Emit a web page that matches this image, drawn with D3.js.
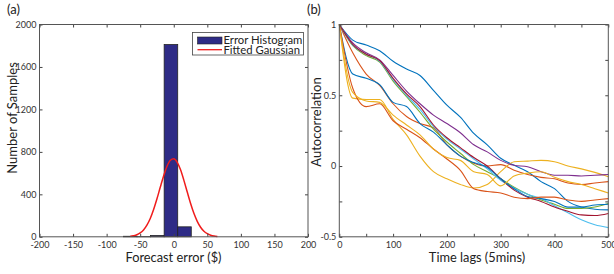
<!DOCTYPE html>
<html>
<head>
<meta charset="utf-8">
<script src="https://cdn.jsdelivr.net/npm/d3@7"></script>
<style>
  body { margin: 0; background: #fff; }
  svg { display: block; font-family: Lato, "Open Sans", sans-serif; }
  .tick text { font-size: 9px; fill: #333; font-family: Lato, sans-serif; }
  .tick line { stroke: #444; }
  .domain { display: none; }
</style>
</head>
<body>
<script>
// (a) histogram of forecast errors
var binCenters = [-64.8, -44.6, -24.4, -4.2, 16.0];
var binCounts = [5, 1, 12, 1811, 94];
var binWidth = 20.2;
var gaussX = [-65,-60,-55,-50,-45,-40,-35,-30,-25,-20,-15,-10,-5,0,5,10,15,20,25,30,35,40,45,50,55,60,65];
var gaussY = [4,10,19,37,65,110,173,257,358,469,576,665,721,735,704,633,534,424,316,221,146,90,52,29,15,7,3];

// (b) autocorrelation curves
var lags = [0,25,50,75,100,125,150,175,200,225,250,275,300,325,350,375,400,425,450,475,500];
var acBlue1   = [1,0.89,0.855,0.815,0.74,0.685,0.64,0.535,0.43,0.345,0.23,0.15,0.055,0.005,-0.04,-0.11,-0.16,-0.25,-0.29,-0.305,-0.31];
var acOrange1 = [1,0.8,0.65,0.57,0.44,0.35,0.3,0.27,0.15,0.07,0.02,0.0,0.01,-0.03,-0.06,-0.08,-0.09,-0.12,-0.13,-0.12,-0.11];
var acYellow1 = [1,0.48,0.47,0.47,0.33,0.22,0.07,-0.04,-0.09,-0.13,-0.155,-0.13,-0.04,0.03,0.035,0.04,0.03,0.0,-0.02,-0.045,-0.075];
var acPurple  = [1,0.87,0.8,0.75,0.64,0.53,0.44,0.36,0.3,0.235,0.15,0.1,0.04,0.005,-0.005,-0.04,-0.065,-0.065,-0.07,-0.065,-0.06];
var acGreen   = [1,0.85,0.78,0.735,0.6,0.49,0.38,0.26,0.17,0.09,0.01,-0.04,-0.09,-0.15,-0.2,-0.24,-0.27,-0.3,-0.3,-0.29,-0.265];
var acCyan    = [1,0.855,0.79,0.74,0.61,0.5,0.4,0.28,0.19,0.12,0.05,-0.02,-0.1,-0.155,-0.2,-0.23,-0.28,-0.33,-0.38,-0.415,-0.435];
var acDarkRed = [1,0.86,0.79,0.745,0.62,0.51,0.42,0.29,0.2,0.13,0.06,0.0,-0.09,-0.17,-0.22,-0.25,-0.29,-0.32,-0.345,-0.35,-0.335];
var acBlue2   = [1,0.65,0.62,0.575,0.45,0.42,0.3,0.24,0.15,0.07,0.025,-0.01,-0.09,-0.16,-0.215,-0.23,-0.25,-0.29,-0.29,-0.275,-0.27];
var acOrange2 = [1,0.55,0.42,0.44,0.32,0.26,0.2,0.12,0.05,-0.03,-0.16,-0.18,-0.19,-0.22,-0.23,-0.22,-0.22,-0.24,-0.25,-0.24,-0.23];
var acYellow2 = [1,0.52,0.46,0.45,0.36,0.29,0.22,0.12,0.06,0.04,-0.04,-0.06,-0.14,-0.07,-0.05,-0.04,-0.08,-0.11,-0.13,-0.16,-0.19];

var series = [
  {v: acBlue1, c: "#0072BD"},
  {v: acOrange1, c: "#D95319"},
  {v: acYellow1, c: "#EDB120"},
  {v: acPurple, c: "#7E2F8E"},
  {v: acGreen, c: "#77AC30"},
  {v: acCyan, c: "#4DBEEE"},
  {v: acDarkRed, c: "#A2142F"},
  {v: acBlue2, c: "#0072BD"},
  {v: acOrange2, c: "#D95319"},
  {v: acYellow2, c: "#EDB120"}
];

var W = 614, H = 274;
var plotTop = 24.5, plotBottom = 236.8;

var svg = d3.select("body").append("svg").attr("width", W).attr("height", H);

// plain hyphen minus, like the original
function num(d) { return String(+d.toFixed(4)); }

function frame(g, x, y, xTicks, yTicks, xFmt, yFmt) {
  g.append("g").attr("transform", "translate(0," + plotBottom + ")")
    .call(d3.axisBottom(x).tickValues(xTicks).tickSize(-3).tickPadding(4.5).tickFormat(xFmt));
  g.append("g").attr("transform", "translate(0," + plotTop + ")")
    .call(d3.axisTop(x).tickValues(xTicks).tickSize(-3).tickFormat(""));
  g.append("g").attr("transform", "translate(" + x.range()[0] + ",0)")
    .call(d3.axisLeft(y).tickValues(yTicks).tickSize(-3).tickPadding(3).tickFormat(yFmt));
  g.append("g").attr("transform", "translate(" + x.range()[1] + ",0)")
    .call(d3.axisRight(y).tickValues(yTicks).tickSize(-3).tickFormat(""));
  g.append("rect")
    .attr("x", x.range()[0]).attr("y", plotTop)
    .attr("width", x.range()[1] - x.range()[0]).attr("height", plotBottom - plotTop)
    .attr("fill", "none").attr("stroke", "#555").attr("stroke-width", 1);
}

// ---- panel (a)
var xa = d3.scaleLinear().domain([-200, 200]).range([39.5, 308]);
var ya = d3.scaleLinear().domain([0, 2000]).range([plotBottom, plotTop]);
var ga = svg.append("g");

ga.selectAll("rect.bar").data(binCenters).enter().append("rect")
  .attr("class", "bar")
  .attr("x", function(d){ return xa(d - binWidth / 2); })
  .attr("width", function(d){ return xa(d + binWidth / 2) - xa(d - binWidth / 2); })
  .attr("y", function(d, i){ return ya(binCounts[i]); })
  .attr("height", function(d, i){ return ya(0) - ya(binCounts[i]); })
  .attr("fill", "#2e2b86").attr("stroke", "#222").attr("stroke-width", 0.8);

ga.append("path")
  .datum(gaussX.map(function(d, i){ return [d, gaussY[i]]; }))
  .attr("d", d3.line().x(function(d){ return xa(d[0]); }).y(function(d){ return ya(d[1]); }).curve(d3.curveMonotoneX))
  .attr("fill", "none").attr("stroke", "#f01c1c").attr("stroke-width", 1.5);

frame(ga, xa, ya, d3.range(-200, 201, 50), d3.range(0, 2001, 400), num, num);

// legend
var lg = ga.append("g");
lg.append("rect").attr("x", 192.5).attr("y", 32.5).attr("width", 111).attr("height", 22.5)
  .attr("fill", "#fff").attr("stroke", "#444").attr("stroke-width", 0.8);
lg.append("rect").attr("x", 197.5).attr("y", 37).attr("width", 24.5).attr("height", 7)
  .attr("fill", "#2e2b86").attr("stroke", "#222").attr("stroke-width", 0.6);
lg.append("line").attr("x1", 197.5).attr("x2", 222).attr("y1", 49.7).attr("y2", 49.7)
  .attr("stroke", "#f01c1c").attr("stroke-width", 1.3);
lg.append("text").attr("x", 223.5).attr("y", 44).attr("font-size", 11.3).attr("fill", "#222").text("Error Histogram");
lg.append("text").attr("x", 223.5).attr("y", 53.8).attr("font-size", 11.3).attr("fill", "#222").text("Fitted Gaussian");

ga.append("text").attr("x", 173.5).attr("y", 261.5).attr("text-anchor", "middle")
  .attr("font-size", 12.8).attr("fill", "#222").text("Forecast error ($)");
ga.append("text").attr("transform", "translate(17,118) rotate(-90)").attr("text-anchor", "middle")
  .attr("font-size", 13).attr("fill", "#222").text("Number of Samples");
ga.append("text").attr("x", 7).attr("y", 14).attr("font-size", 13).attr("fill", "#222").text("(a)");

// ---- panel (b)
var xb = d3.scaleLinear().domain([0, 500]).range([339.3, 608.3]);
var yb = d3.scaleLinear().domain([-0.5, 1]).range([plotBottom, plotTop]);
var gb = svg.append("g");

var line = d3.line()
  .x(function(d, i){ return xb(lags[i]); })
  .y(function(d){ return yb(d); })
  .curve(d3.curveMonotoneX);

gb.selectAll("path.ac").data(series).enter().append("path")
  .attr("class", "ac")
  .attr("d", function(s){ return line(s.v); })
  .attr("fill", "none")
  .attr("stroke", function(s){ return s.c; })
  .attr("stroke-width", 1.1);

frame(gb, xb, yb, d3.range(0, 501, 50), [-0.5, -0.25, 0, 0.25, 0.5, 0.75, 1],
  function(d){ return d % 100 === 0 ? num(d) : ""; },
  function(d){ return Math.abs(d * 2 - Math.round(d * 2)) < 1e-9 ? num(d) : ""; });

gb.append("text").attr("x", 477).attr("y", 261.5).attr("text-anchor", "middle")
  .attr("font-size", 12.8).attr("fill", "#222").text("Time lags (5mins)");
gb.append("text").attr("transform", "translate(321,122) rotate(-90)").attr("text-anchor", "middle")
  .attr("font-size", 13).attr("fill", "#222").text("Autocorrelation");
gb.append("text").attr("x", 307).attr("y", 14).attr("font-size", 13).attr("fill", "#222").text("(b)");
</script>
</body>
</html>
